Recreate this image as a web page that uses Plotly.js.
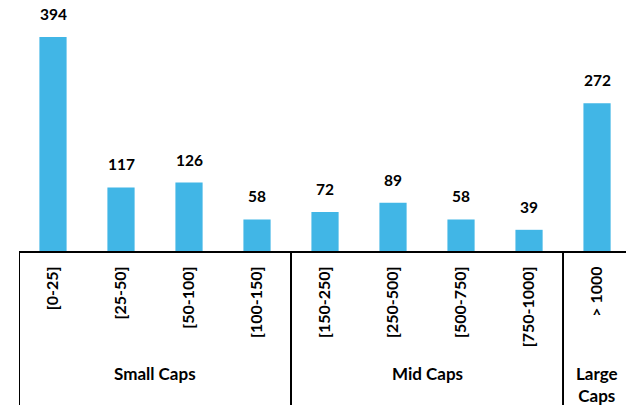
<!DOCTYPE html>
<html>
<head>
<meta charset="utf-8">
<script src="https://cdn.plot.ly/plotly-3.0.1.min.js"></script>
<style>html,body{margin:0;padding:0;background:#fff;}#chart{width:626px;height:405px;}</style>
</head>
<body>
<div id="chart"></div>
<script>
const categories = ["[0-25]", "[25-50]", "[50-100]", "[100-150]", "[150-250]", "[250-500]", "[500-750]", "[750-1000]", "> 1000"];
const counts = [394, 117, 126, 58, 72, 89, 58, 39, 272];
const groupNames = ["Small Caps", "Mid Caps", "Large<br>Caps"];
const groupStarts = [0, 4, 8];
const groupEnds = [3, 7, 8];

const FONT = "Lato, 'Open Sans', sans-serif";

const trace = {
  type: "bar",
  x: categories,
  y: counts,
  marker: {color: "#41B6E6"},
  width: 0.4,
  hoverinfo: "x+y"
};

const annotations = categories.map((c, i) => ({
  x: c, y: counts[i], xref: "x", yref: "y",
  text: String(counts[i]), showarrow: false,
  yanchor: "bottom", yshift: 12,
  font: {family: FONT, size: 15.5, color: "#000", weight: "bold"}
}));

groupNames.forEach((g, i) => {
  const center = (groupStarts[i] + groupEnds[i]) / 2;
  annotations.push({
    x: center, y: -0.438, xref: "x", yref: "paper",
    text: "<b>" + g + "</b>", showarrow: false,
    yanchor: "top",
    font: {family: FONT, size: 17, color: "#000"}
  });
});

const shapes = groupStarts.map(s => ({
  type: "line", xref: "x", yref: "paper",
  x0: s - 0.5, x1: s - 0.5, y0: 0, y1: -0.62,
  line: {color: "#000", width: 2}
}));

const layout = {
  width: 626, height: 405,
  margin: {l: 19, r: 0, t: 0, b: 154, pad: 0},
  paper_bgcolor: "#fff", plot_bgcolor: "#fff",
  showlegend: false,
  xaxis: {
    type: "category",
    range: [-0.5, 8.426],
    showline: true, linecolor: "#000", linewidth: 2,
    ticks: "", tickangle: -90,
    ticklabelstandoff: 7,
    tickfont: {family: FONT, size: 16, color: "#000", weight: "bold"},
    showgrid: false, zeroline: false, fixedrange: true
  },
  yaxis: {
    range: [0, 462],
    visible: false, showgrid: false, zeroline: false, fixedrange: true
  },
  annotations: annotations,
  shapes: shapes
};

Plotly.newPlot("chart", [trace], layout, {displayModeBar: false, staticPlot: true});
</script>
</body>
</html>
